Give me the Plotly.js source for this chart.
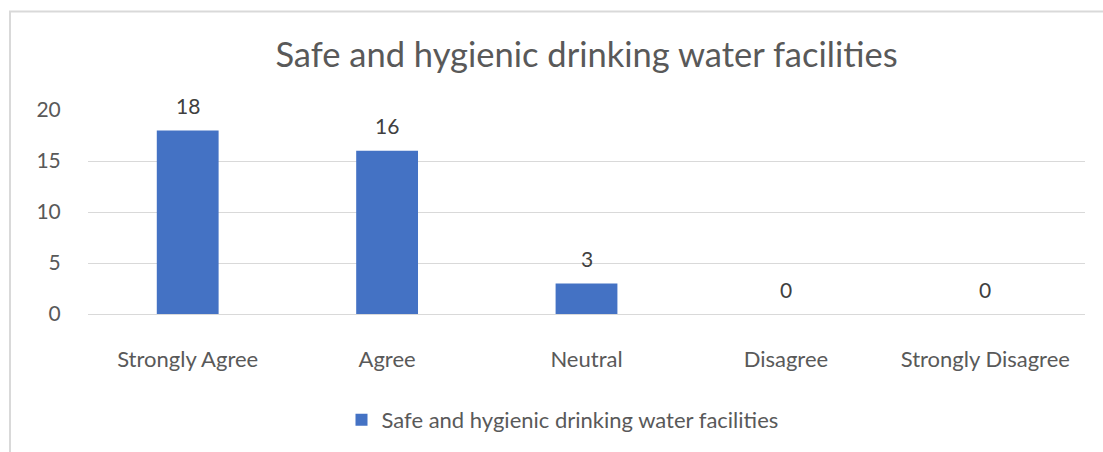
<!DOCTYPE html>
<html>
<head>
<meta charset="utf-8">
<script src="https://cdn.plot.ly/plotly-3.0.1.min.js"></script>
<style>html,body{margin:0;padding:0;background:#fff;}#chart{width:1103px;height:452px;}</style>
</head>
<body>
<div id="chart"></div>
<script>
const categories = ["Strongly Agree", "Agree", "Neutral", "Disagree", "Strongly Disagree"];
const values = [18, 16, 3, 0, 0];
const seriesName = "Safe and hygienic drinking water facilities";
const yTicks = [0, 5, 10, 15, 20];

const FONT = "Lato, 'Open Sans', sans-serif";
const TXT = "#595959";

const trace = {
  type: "bar",
  x: categories,
  y: values,
  name: seriesName,
  marker: {color: "#4472C4"},
  hoverinfo: "none"
};

const annotations = categories.map((c, i) => ({
  x: c, y: values[i], xref: "x", yref: "y",
  text: String(values[i]), showarrow: false,
  yshift: 25, font: {family: FONT, size: 21, color: "#404040"}
}));

const layout = {
  width: 1103, height: 452,
  margin: {l: 88, r: 18, t: 110, b: 137},
  paper_bgcolor: "#fff", plot_bgcolor: "#fff",
  title: {text: "Safe and hygienic drinking water facilities", x: 0.5, xanchor: "center", y: 1 - 55/452, yanchor: "middle", xref: "paper",
          font: {family: FONT, size: 34.5, color: TXT}},
  bargap: 0.69,
  xaxis: {type: "category", showgrid: false, zeroline: false, showline: false,
          ticks: "outside", ticklen: 26, tickcolor: "rgba(0,0,0,0)",
          tickfont: {family: FONT, size: 22, color: TXT}, fixedrange: true},
  yaxis: {range: [0, 20], tickvals: yTicks, showgrid: true, gridcolor: "#d9d9d9", gridwidth: 1,
          zeroline: true, zerolinecolor: "#d9d9d9", zerolinewidth: 1, showline: false,
          ticks: "outside", ticklen: 22, tickcolor: "rgba(0,0,0,0)",
          tickfont: {family: FONT, size: 21, color: TXT}, fixedrange: true},
  showlegend: true,
  legend: {orientation: "h", x: 0.5 - 24/997, xanchor: "center", y: (315-420)/205, yanchor: "middle",
           font: {family: FONT, size: 22, color: TXT}},
  annotations: annotations,
  shapes: [{type: "rect", xref: "paper", yref: "paper",
            x0: (10-88)/997, x1: (1115-88)/997, y0: (315-470)/205, y1: 1 + (110-11)/205,
            line: {color: "#d9d9d9", width: 2}, fillcolor: "rgba(0,0,0,0)", layer: "below"}]
};

Plotly.newPlot("chart", [trace], layout, {displayModeBar: false, staticPlot: true});
</script>
</body>
</html>
